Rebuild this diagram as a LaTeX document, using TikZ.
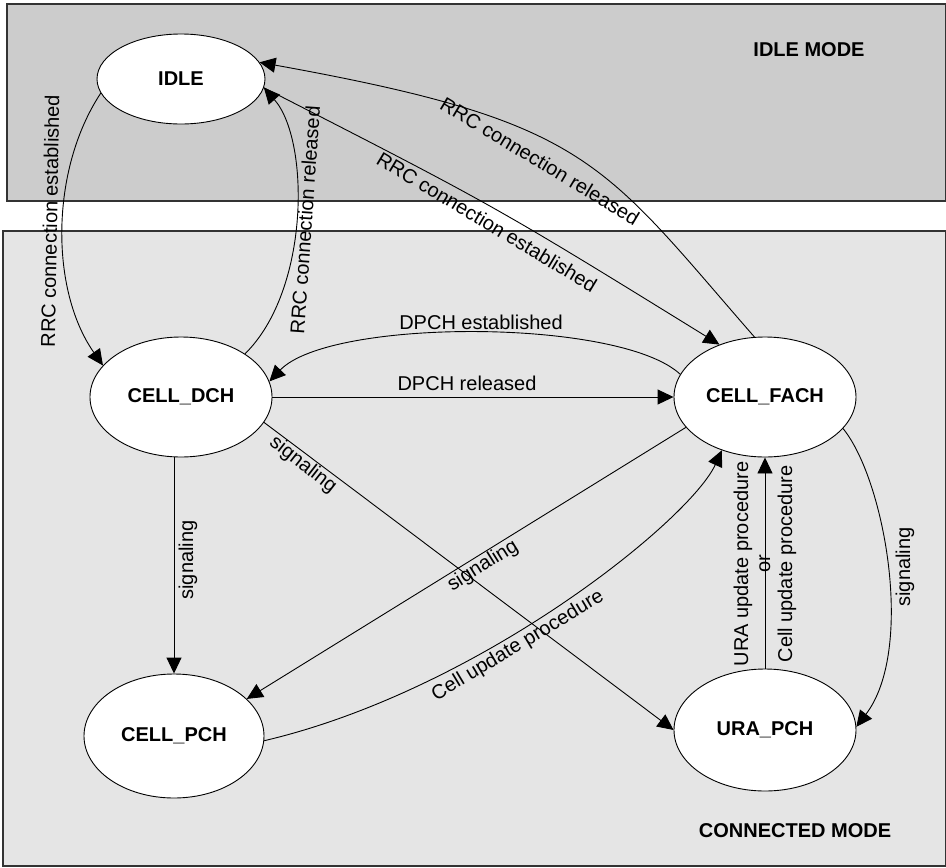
\documentclass[tikz,border=0pt]{standalone}
\usepackage{fontspec}
\setmainfont{Liberation Sans}
\usetikzlibrary{shapes.geometric,arrows.meta}
\begin{document}
\begin{tikzpicture}[x=1pt,y=-1pt,
  state/.style={ellipse,draw=black,line width=0.9pt,fill=white,inner sep=0pt,
    font=\fontsize{20}{24}\selectfont\bfseries},
  trans/.style={draw=black,line width=0.9pt,-{Triangle[length=16pt,width=15pt]}},
  lbl/.style={font=\fontsize{20}{22}\selectfont,inner sep=1pt},
  modelbl/.style={font=\fontsize{20}{24}\selectfont\bfseries},
  zone/.style={draw=black!80,line width=1.3pt}]
\useasboundingbox (0,0) rectangle (946,868);
\fill[white] (0,0) rectangle (946,868);

% mode areas
\draw[zone,fill=black!20] (7,4) rectangle (945.5,201);
\draw[zone,fill=black!10] (3,231) rectangle (945.5,866);
\node[modelbl] (idlemode) at (809,50) {IDLE MODE};
\node[modelbl] (connmode) at (795,831) {CONNECTED MODE};

% states
\node[state,minimum width=168pt,minimum height=90pt] (idle) at (181,79) {IDLE};
\node[state,minimum width=182pt,minimum height=120pt] (dch) at (181,397) {CELL\_DCH};
\node[state,minimum width=182pt,minimum height=120pt] (fach) at (765,397) {CELL\_FACH};
\node[state,minimum width=180pt,minimum height=124pt] (pch) at (174,736) {CELL\_PCH};
\node[state,minimum width=182pt,minimum height=122pt] (ura) at (765,730) {URA\_PCH};

% idle <-> cell_dch
\draw[trans] (idle.190) .. controls (50,170) and (50,290) .. (dch.158);
\node[lbl,rotate=89] (l1) at (50,221) {RRC connection established};
\draw[trans] (dch.34) .. controls (310,290) and (310,140) .. (idle.-6);
\node[lbl,rotate=86] (l2) at (305,220) {RRC connection released};

% idle <-> cell_fach
\draw[trans] (fach.100) .. controls (600,160) and (590,122) .. (idle.12);
\node[lbl,rotate=-31] (l3) at (540,161) {RRC connection released};
\draw[trans] (idle.-6) .. controls (495,206) .. (fach.131);
\node[lbl,rotate=-31] (l4) at (487,222) {RRC connection established};

% cell_dch <-> cell_fach
\draw[trans] (fach.165) .. controls (620,318) and (330,318) .. (dch.10);
\node[lbl] (l5) at (481,322) {DPCH established};
\draw[trans] (dch.east) -- (fach.west);
\node[lbl] (l6) at (467,383) {DPCH released};

% signaling transitions
\draw[trans] (dch.south -| pch.north) -- (pch.north);
\node[lbl,rotate=90] (l7) at (188,560) {signaling};
\draw[trans] (dch.-17) -- (ura.west);
\node[lbl,rotate=-38] (l8) at (303,465) {signaling};
\draw[trans] (fach.201) -- (pch.27);
\node[lbl,rotate=32] (l9) at (483,566) {signaling};
\draw[trans] (fach.-22) .. controls (885,480) and (915,650) .. (ura.2);
\node[lbl,rotate=90] (l10) at (905,567) {signaling};

% update procedures back to cell_fach
\draw[trans] (pch.-3) .. controls (480,690) and (690,520) .. (fach.231);
\node[lbl,rotate=31] (l11) at (518,646) {Cell update procedure};
\draw[trans] (ura.north) -- (fach.south);
\node[lbl,rotate=90,align=center] (l12) at (765,564)
  {URA update procedure\\or\\Cell update procedure};
\end{tikzpicture}
\end{document}
